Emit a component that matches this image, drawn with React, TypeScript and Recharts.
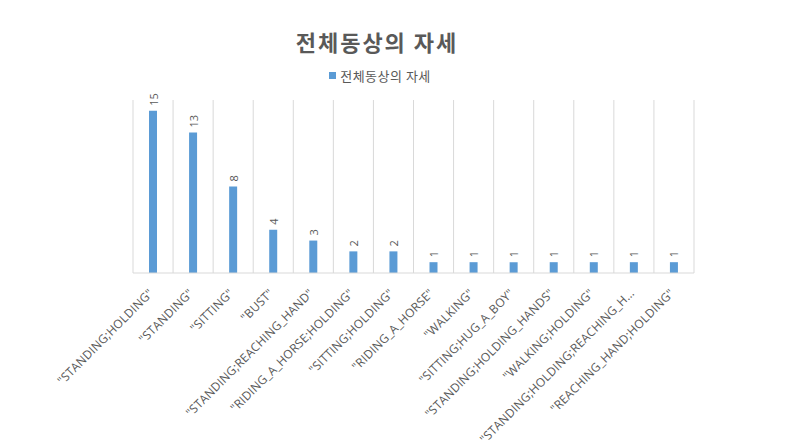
import { BarChart, Bar, XAxis, YAxis, CartesianGrid, LabelList } from 'recharts'

const categories = [
  '"STANDING;HOLDING"',
  '"STANDING"',
  '"SITTING"',
  '"BUST"',
  '"STANDING;REACHING_HAND"',
  '"RIDING_A_HORSE;HOLDING"',
  '"SITTING;HOLDING"',
  '"RIDING_A_HORSE"',
  '"WALKING"',
  '"SITTING;HUG_A_BOY"',
  '"STANDING;HOLDING_HANDS"',
  '"WALKING;HOLDING"',
  '"STANDING;HOLDING;REACHING_H…',
  '"REACHING_HAND;HOLDING"',
]
const counts = [15, 13, 8, 4, 3, 2, 2, 1, 1, 1, 1, 1, 1, 1]
const seriesName = '전체동상의 자세'
const title = '전체동상의 자세'

const data = categories.map((name, i) => ({ name, value: counts[i] }))

const BLUE = '#5B9BD5'
const TEXT = '#595959'
const GRID = '#D9D9D9'
const FONT = '"Noto Sans CJK KR", "Open Sans", sans-serif'

function CategoryTick(props: any) {
  const { x, y, payload } = props
  const tx = x + 1
  const ty = y + 13
  return (
    <text
      x={tx}
      y={ty}
      transform={`rotate(-45, ${tx}, ${ty})`}
      textAnchor="end"
      fill={TEXT}
      fontSize={12}
      letterSpacing={0.15}
      fontFamily='"Open Sans", sans-serif'
    >
      {payload.value}
    </text>
  )
}

function ValueLabel(props: any) {
  const { x, y, width, value } = props
  const cx = x + width / 2
  const ty = y - 5
  return (
    <text
      x={cx}
      y={ty}
      transform={`rotate(-90, ${cx}, ${ty})`}
      textAnchor="start"
      dominantBaseline="central"
      fill={TEXT}
      fontSize={11}
      fontFamily='"Open Sans", sans-serif'
    >
      {value}
    </text>
  )
}

const boundaries = ({ offset }: any) =>
  categories.map((_, i) => offset.left + (i * offset.width) / categories.length).concat(offset.left + offset.width)

export default function App() {
  return (
    <div style={{ position: 'absolute', left: 0, top: 0, width: 800, height: 446, background: '#fff', fontFamily: FONT }}>
      <div
        style={{
          position: 'absolute',
          top: 25,
          left: 0,
          width: 754,
          textAlign: 'center',
          fontSize: 22,
          fontWeight: 700,
          color: TEXT,
          letterSpacing: 2,
        }}
      >
        {title}
      </div>
      <div
        style={{
          position: 'absolute',
          top: 66,
          left: 0,
          width: 760,
          display: 'flex',
          justifyContent: 'center',
          alignItems: 'center',
          fontSize: 13,
          letterSpacing: 0.5,
          color: TEXT,
        }}
      >
        <span style={{ width: 7, height: 7, background: BLUE, marginRight: 4, display: 'inline-block' }} />
        {seriesName}
      </div>
      <BarChart width={800} height={446} data={data} margin={{ top: 100, right: 106, left: 133, bottom: 0 }}>
        <CartesianGrid horizontal={false} stroke={GRID} verticalCoordinatesGenerator={boundaries} />
        <XAxis
          dataKey="name"
          interval={0}
          height={173}
          tickLine={false}
          axisLine={{ stroke: GRID }}
          tick={<CategoryTick />}
        />
        <YAxis hide domain={[0, 16]} />
        <Bar dataKey="value" fill={BLUE} barSize={8} isAnimationActive={false}>
          <LabelList dataKey="value" content={<ValueLabel />} />
        </Bar>
      </BarChart>
    </div>
  )
}
